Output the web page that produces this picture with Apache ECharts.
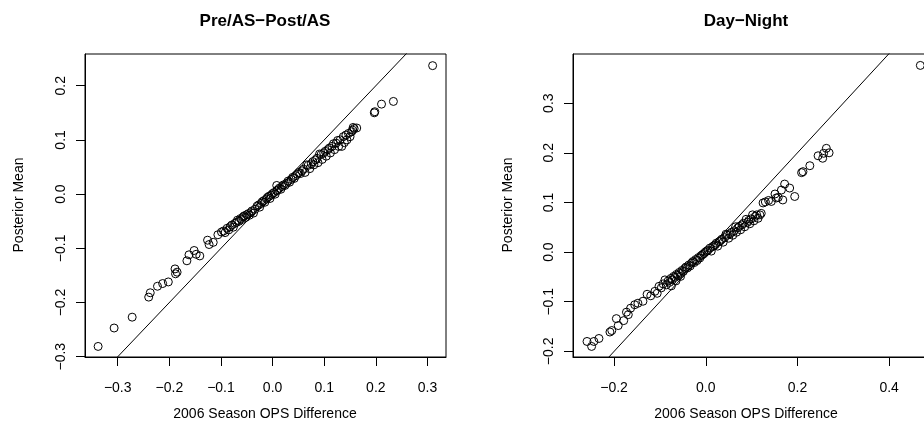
<!DOCTYPE html>
<html>
<head>
<meta charset="utf-8">
<script src="https://cdn.jsdelivr.net/npm/echarts@6/dist/echarts.min.js"></script>
<style>
  html, body { margin: 0; padding: 0; background: #fff; }
  #charts { width: 924px; height: 439px; }
</style>
</head>
<body>
<div id="charts"></div>
<script>
// [2006 season OPS difference, posterior mean]
var prePostPoints = [
    [-0.338,-0.281],[-0.307,-0.247],[-0.272,-0.227],[-0.240,-0.190],[-0.237,-0.182],
    [-0.223,-0.170],[-0.213,-0.165],[-0.202,-0.162],[-0.189,-0.138],[-0.188,-0.147],
    [-0.185,-0.144],[-0.166,-0.123],[-0.162,-0.112],[-0.152,-0.104],[-0.148,-0.111],
    [-0.141,-0.114],[-0.126,-0.085],[-0.123,-0.093],[-0.115,-0.089],[-0.106,-0.075],
    [-0.099,-0.070],[-0.095,-0.068],[-0.092,-0.071],[-0.088,-0.063],[-0.085,-0.066],
    [-0.082,-0.060],[-0.079,-0.057],[-0.076,-0.061],[-0.073,-0.054],[-0.070,-0.052],
    [-0.068,-0.048],[-0.065,-0.050],[-0.062,-0.045],[-0.060,-0.047],[-0.057,-0.042],
    [-0.055,-0.040],[-0.052,-0.043],[-0.050,-0.038],[-0.047,-0.036],[-0.045,-0.039],
    [-0.042,-0.034],[-0.040,-0.031],[-0.037,-0.035],[-0.034,-0.028],[-0.030,-0.022],
    [-0.027,-0.020],[-0.025,-0.024],[-0.022,-0.017],[-0.020,-0.014],[-0.017,-0.012],
    [-0.015,-0.015],[-0.012,-0.009],[-0.010,-0.006],[-0.007,-0.004],[-0.005,-0.008],
    [-0.003,-0.002],[0.000,0.001],[0.003,0.003],[0.005,0.000],[0.008,0.006],
    [0.008,0.016],[0.010,0.008],[0.013,0.011],[0.016,0.009],[0.018,0.014],
    [0.021,0.017],[0.024,0.016],[0.027,0.020],[0.030,0.024],[0.033,0.022],
    [0.036,0.027],[0.039,0.031],[0.042,0.029],[0.045,0.034],[0.048,0.037],
    [0.051,0.040],[0.054,0.038],[0.057,0.043],[0.060,0.046],[0.063,0.040],
    [0.066,0.054],[0.069,0.053],[0.072,0.047],[0.075,0.056],[0.078,0.060],
    [0.080,0.054],[0.083,0.063],[0.086,0.066],[0.088,0.058],[0.091,0.074],
    [0.094,0.073],[0.096,0.064],[0.099,0.076],[0.102,0.079],[0.104,0.070],
    [0.107,0.082],[0.110,0.085],[0.112,0.076],[0.115,0.088],[0.118,0.093],
    [0.120,0.082],[0.123,0.094],[0.126,0.099],[0.128,0.088],[0.131,0.100],
    [0.134,0.088],[0.137,0.106],[0.139,0.095],[0.142,0.109],[0.144,0.100],
    [0.147,0.112],[0.150,0.106],[0.153,0.115],[0.155,0.118],[0.156,0.123],
    [0.158,0.121],[0.163,0.122],[0.197,0.150],[0.198,0.152],[0.211,0.166],
    [0.234,0.171],[0.310,0.237]
];

var dayNightPoints = [
    [-0.259,-0.180],[-0.249,-0.190],[-0.244,-0.180],[-0.233,-0.174],[-0.209,-0.161],
    [-0.205,-0.158],[-0.195,-0.134],[-0.191,-0.148],[-0.179,-0.138],[-0.173,-0.121],
    [-0.169,-0.126],[-0.164,-0.113],[-0.155,-0.106],[-0.148,-0.103],[-0.137,-0.099],
    [-0.128,-0.085],[-0.120,-0.088],[-0.111,-0.079],[-0.106,-0.083],[-0.102,-0.069],
    [-0.097,-0.072],[-0.093,-0.064],[-0.089,-0.056],[-0.086,-0.066],[-0.082,-0.058],
    [-0.079,-0.061],[-0.076,-0.053],[-0.075,-0.068],[-0.073,-0.056],[-0.070,-0.049],
    [-0.067,-0.051],[-0.065,-0.058],[-0.064,-0.045],[-0.061,-0.047],[-0.058,-0.041],
    [-0.055,-0.049],[-0.055,-0.043],[-0.052,-0.037],[-0.049,-0.039],[-0.046,-0.033],
    [-0.043,-0.030],[-0.040,-0.032],[-0.037,-0.026],[-0.034,-0.028],[-0.031,-0.022],
    [-0.028,-0.019],[-0.025,-0.021],[-0.022,-0.015],[-0.019,-0.017],[-0.016,-0.011],
    [-0.013,-0.012],[-0.010,-0.007],[-0.007,-0.005],[-0.004,-0.003],[-0.001,0.000],
    [0.002,0.002],[0.005,0.004],[0.009,0.008],[0.012,0.002],[0.015,0.011],
    [0.018,0.013],[0.021,0.015],[0.023,0.018],[0.026,0.012],[0.029,0.021],
    [0.032,0.023],[0.035,0.026],[0.038,0.020],[0.041,0.029],[0.044,0.036],
    [0.047,0.034],[0.050,0.028],[0.053,0.037],[0.056,0.040],[0.059,0.034],
    [0.062,0.043],[0.065,0.051],[0.067,0.040],[0.070,0.049],[0.073,0.052],
    [0.076,0.045],[0.079,0.055],[0.082,0.058],[0.085,0.051],[0.088,0.066],
    [0.091,0.060],[0.094,0.064],[0.096,0.057],[0.099,0.067],[0.102,0.075],
    [0.105,0.063],[0.108,0.072],[0.111,0.075],[0.114,0.068],[0.118,0.075],
    [0.121,0.078],[0.125,0.099],[0.130,0.101],[0.137,0.104],[0.143,0.102],
    [0.151,0.117],[0.154,0.109],[0.158,0.110],[0.165,0.125],[0.168,0.105],
    [0.172,0.137],[0.183,0.129],[0.194,0.112],[0.209,0.160],[0.212,0.162],
    [0.227,0.174],[0.245,0.194],[0.255,0.189],[0.257,0.199],[0.263,0.209],
    [0.269,0.200],[0.468,0.376]
];

var identityLine = [[-1, -1], [1, 1]];

var prePostXTicks = [-0.3, -0.2, -0.1, 0, 0.1, 0.2, 0.3];
var prePostYTicks = [-0.3, -0.2, -0.1, 0, 0.1, 0.2];
var dayNightXTicks = [-0.2, 0, 0.2, 0.4];
var dayNightYTicks = [-0.2, -0.1, 0, 0.1, 0.2, 0.3];

var titles = ['Pre/AS\u2212Post/AS', 'Day\u2212Night'];
var xLabel = '2006 Season OPS Difference';
var yLabel = 'Posterior Mean';

var FONT = '"Liberation Sans", Arial, Helvetica, sans-serif';

function fmt(v) {
    return (v < 0 ? '\u2212' : '') + Math.abs(v).toFixed(1);
}

function axis(idx, min, max, ticks, isY) {
    return {
        type: 'value',
        gridIndex: idx,
        min: min,
        max: max,
        splitLine: { show: false },
        axisLine: { show: true, onZero: false, lineStyle: { color: '#000', width: 1 } },
        axisTick: {
            show: true,
            length: 9,
            customValues: ticks,
            lineStyle: { color: '#000', width: 1 }
        },
        axisLabel: {
            customValues: ticks,
            formatter: fmt,
            rotate: isY ? 90 : 0,
            margin: isY ? 17 : 24,
            color: '#000',
            fontSize: 14,
            fontFamily: FONT,
            showMinLabel: true,
            showMaxLabel: true
        }
    };
}

function points(idx, data) {
    return {
        type: 'scatter',
        xAxisIndex: idx,
        yAxisIndex: idx,
        data: data,
        symbol: 'circle',
        symbolSize: 8,
        silent: true,
        itemStyle: { color: 'transparent', borderColor: '#000', borderWidth: 1, opacity: 1 }
    };
}

function diag(idx) {
    return {
        type: 'line',
        xAxisIndex: idx,
        yAxisIndex: idx,
        data: identityLine,
        symbol: 'none',
        silent: true,
        clip: true,
        lineStyle: { color: '#000', width: 1 }
    };
}

function label(x, y, text, opts) {
    opts = opts || {};
    return {
        type: 'text',
        x: x,
        y: y,
        rotation: opts.rotation || 0,
        silent: true,
        style: {
            text: text,
            font: (opts.bold ? 'bold ' : '') + (opts.size || 14) + 'px ' + FONT,
            textAlign: 'center',
            textVerticalAlign: 'middle',
            fill: '#000'
        }
    };
}

var myChart = echarts.init(document.getElementById('charts'), null, { renderer: 'canvas' });

var option = {
    backgroundColor: '#fff',
    animation: false,
    grid: [
        { left: 85, top: 54, width: 361, height: 303, outerBoundsMode: 'none', show: true, borderColor: '#000', borderWidth: 1, backgroundColor: 'transparent' },
        { left: 573, top: 54, width: 362, height: 303, outerBoundsMode: 'none', show: true, borderColor: '#000', borderWidth: 1, backgroundColor: 'transparent' }
    ],
    xAxis: [
        axis(0, -0.3634, 0.3359, prePostXTicks, false),
        axis(1, -0.2896, 0.5, dayNightXTicks, false)
    ],
    yAxis: [
        axis(0, -0.3005, 0.2585, prePostYTicks, true),
        axis(1, -0.2113, 0.399, dayNightYTicks, true)
    ],
    series: [
        diag(0),
        points(0, prePostPoints),
        diag(1),
        points(1, dayNightPoints)
    ],
    graphic: [
        label(265, 21, titles[0], { bold: true, size: 17 }),
        label(746, 21, titles[1], { bold: true, size: 17 }),
        label(265, 414, xLabel),
        label(746, 414, xLabel),
        label(19, 205, yLabel, { rotation: Math.PI / 2 }),
        label(508, 205, yLabel, { rotation: Math.PI / 2 })
    ]
};

myChart.setOption(option);
</script>
</body>
</html>
